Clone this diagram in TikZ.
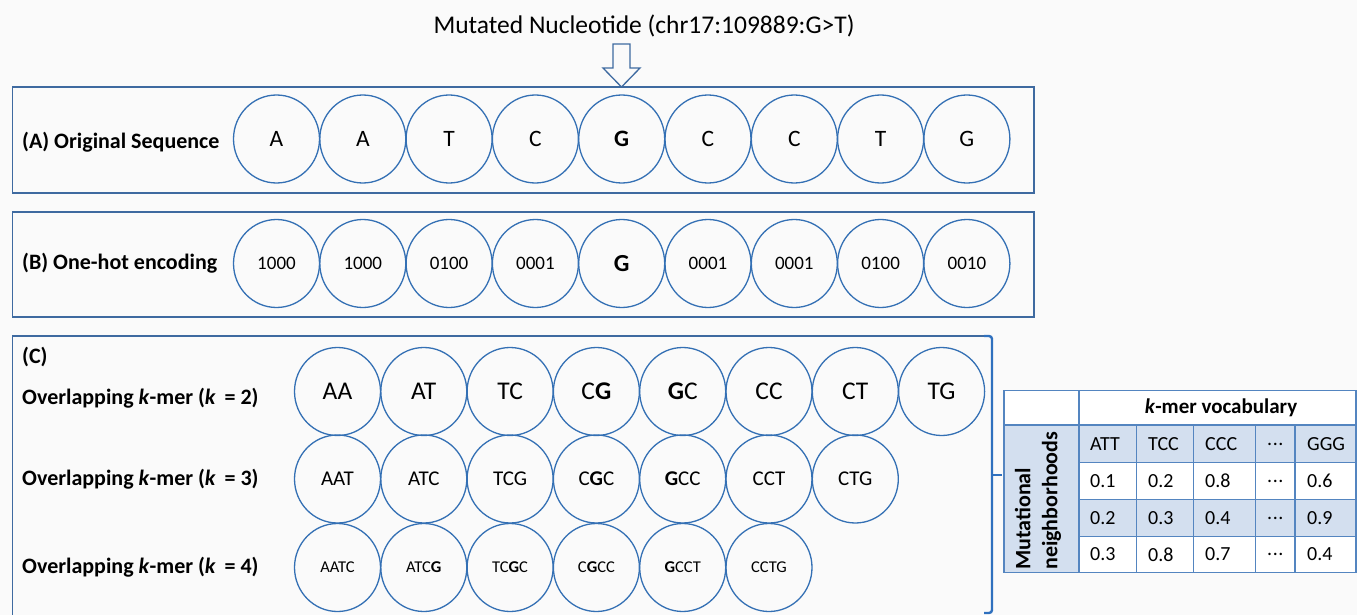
\documentclass[tikz,border=0pt]{standalone}
\usepackage{fontspec}
\setmainfont{Carlito}
\usetikzlibrary{shapes.geometric}
\definecolor{circblue}{RGB}{52,112,180}
\definecolor{boxblue}{RGB}{62,106,160}
\definecolor{brblue}{RGB}{47,112,190}
\definecolor{tabline}{RGB}{84,133,192}
\definecolor{tabfill}{RGB}{211,223,239}
\definecolor{bg}{RGB}{250,250,250}
\newcommand{\fs}[1]{\fontsize{#1}{#1}\selectfont}
\newcommand{\threedots}{.\kern0.6pt.\kern0.6pt.}
\begin{document}
\begin{tikzpicture}[x=1pt,y=-1pt,
 nuc/.style={ellipse, draw=circblue, line width=1.3pt, minimum width=86pt, minimum height=88pt, inner sep=0pt},
 panel/.style={draw=boxblue, line width=1.6pt},
 lab/.style={anchor=west, inner sep=0pt, font=\bfseries\fs{22}},
 cell/.style={anchor=west, inner sep=0pt, font=\fs{20}},
 tline/.style={draw=tabline, line width=1.5pt}
]
\useasboundingbox (0,0) rectangle (1357,615);
\fill[bg] (0,0) rectangle (1357,615);

% title and arrow
\node[font=\fs{25.5}] (title) at (644,26) {Mutated Nucleotide (chr17:109889:G>T)};
\draw[boxblue, line width=1.3pt, fill=bg, line join=miter] (613,44) -- (630,44) -- (630,68) -- (640,68) -- (621.5,87) -- (603,68) -- (613,68) -- cycle;

% panel A
\draw[panel] (12.5,87) rectangle (1034,193);
\node[lab] (labA) at (22,142) {(A) Original Sequence};
\foreach \t [count=\i] in {A,A,T,C,{\textbf{G}},C,C,T,G}
  \node[nuc, font=\fs{23.5}] (a\i) at ({276.5+86.3*(\i-1)},139) {\t};

% panel B
\draw[panel] (12.5,212) rectangle (1034,317);
\node[lab] (labB) at (22,263) {(B) One-hot encoding};
\foreach \t [count=\i] in {1000,1000,0100,0001,{\fs{24.5}\textbf{G}},0001,0001,0100,0010}
  \node[nuc, font=\fs{19}] (b\i) at ({276.5+86.3*(\i-1)},263.5) {\t};

% panel C
\draw[panel] (12.5,616) -- (12.5,336) -- (986,336);
\draw[brblue, line width=2.4pt, rounded corners=3pt] (984,336) -- (992,336) -- (992,613) -- (984,613);
\draw[brblue, line width=2.4pt] (992,475) -- (1002,475);
\node[lab] (labC) at (22,357) {(C)};
\node[lab] (k2lab) at (22,398) {Overlapping \textit{k}-mer (\textit{k}\,\ = 2)};
\node[lab] (k3lab) at (22,479) {Overlapping \textit{k}-mer (\textit{k}\,\ = 3)};
\node[lab] (k4lab) at (22,567) {Overlapping \textit{k}-mer (\textit{k}\,\ = 4)};
\foreach \t [count=\i] in {AA,AT,TC,{C\textbf{G}},{\textbf{G}C},CC,CT,TG}
  \node[nuc, font=\fs{25.5}] (c\i) at ({337.5+86.3*(\i-1)},391.5) {\t};
\foreach \t [count=\i] in {AAT,ATC,TCG,{C\textbf{G}C},{\textbf{G}CC},CCT,CTG}
  \node[nuc, font=\fs{21}] (d\i) at ({337.5+86.3*(\i-1)},479) {\t};
\foreach \t [count=\i] in {AATC,{ATC\textbf{G}},{TC\textbf{G}C},{C\textbf{G}CC},{\textbf{G}CCT},CCTG}
  \node[nuc, font=\fs{16.5}] (e\i) at ({337.5+86.3*(\i-1)},567.5) {\t};

% table
\fill[white] (1004,390.5) rectangle (1357,572.5);
\fill[tabfill] (1004,425) rectangle (1079,572.5);
\fill[tabfill] (1079,425) rectangle (1357,462.5);
\fill[tabfill] (1079,499.5) rectangle (1357,536.5);
\draw[tline] (1004,390.5) rectangle (1356,572.5);
\draw[tline] (1079,390.5) -- (1079,572.5);
\draw[tline] (1004,425) -- (1356,425);
\foreach \yy in {462.5,499.5,536.5}
  \draw[tline] (1079,\yy) -- (1356,\yy);
\foreach \xx in {1136.7,1193.3,1255.3,1295}
  \draw[tline] (\xx,425) -- (\xx,572.5);
\node[font=\bfseries\fs{21}] (vocab) at (1221,408) {\textit{k}-mer vocabulary};
\node[rotate=90, anchor=west, align=left, inner sep=0pt, font=\bfseries\fontsize{22}{27}\selectfont] (mn) at (1038,570) {Mutational\\neighborhoods};
\foreach \t [count=\i] in {ATT,TCC,CCC,\threedots,GGG}{
  \pgfmathsetmacro\cx{{1090,1148,1205,1267,1307}[\i-1]}
  \node[cell] (h\i) at (\cx,444) {\t};}
\foreach \t [count=\i] in {0.1,0.2,0.8,\threedots,0.6}{
  \pgfmathsetmacro\cx{{1090,1148,1205,1267,1307}[\i-1]}
  \node[cell] (r\i) at (\cx,481) {\t};}
\foreach \t [count=\i] in {0.2,0.3,0.4,\threedots,0.9}{
  \pgfmathsetmacro\cx{{1090,1148,1205,1267,1307}[\i-1]}
  \node[cell] (s\i) at (\cx,518) {\t};}
\foreach \t [count=\i] in {0.3,0.8,0.7,\threedots,0.4}{
  \pgfmathsetmacro\cx{{1090,1148,1205,1267,1307}[\i-1]}
  \node[cell] (u\i) at (\cx,554.5) {\t};}
\end{tikzpicture}
\end{document}
